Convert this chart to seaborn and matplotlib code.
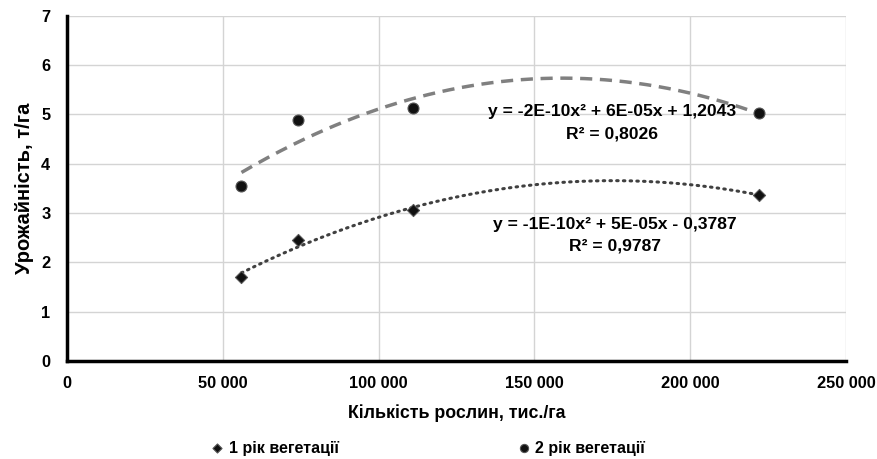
import numpy as np
import pandas as pd
import matplotlib
matplotlib.use("Agg")
import matplotlib.pyplot as plt
import seaborn as sns
from matplotlib.ticker import FuncFormatter, MultipleLocator

plants = [56000, 74000, 111000, 222000]
yield_1 = [1.70, 2.45, 3.05, 3.37]
yield_2 = [3.55, 4.88, 5.12, 5.03]
series_names = ["1 рік вегетації", "2 рік вегетації"]
eq_1 = "y = -1E-10x² + 5E-05x - 0,3787\nR² = 0,9787"
eq_2 = "y = -2E-10x² + 6E-05x + 1,2043\nR² = 0,8026"
x_label = "Кількість рослин, тис./га"
y_label = "Урожайність, т/га"

sns.set_theme(style="white")
plt.rcParams['font.family'] = ['Liberation Sans', 'DejaVu Sans']
plt.rcParams['font.weight'] = 'bold'
plt.rcParams['text.color'] = 'black'
plt.rcParams['axes.labelcolor'] = 'black'
plt.rcParams['xtick.color'] = 'black'
plt.rcParams['ytick.color'] = 'black'

fig = plt.figure(figsize=(8.77, 4.59), dpi=100)
ax = fig.add_axes([67/877, 1 - 361/459, (846-67)/877, (361-15.5)/459])

# trendlines (quadratic fit of the data)
xs = np.linspace(min(plants), max(plants), 200)
c1 = np.polyfit(plants, yield_1, 2)
c2 = np.polyfit(plants, yield_2, 2)
sns.lineplot(x=xs, y=np.polyval(c1, xs), ax=ax, color="#404040", lw=2.2,
             linestyle=(0, (0.5, 1.7)), dash_capstyle="round", legend=False)
sns.lineplot(x=xs, y=np.polyval(c2, xs), ax=ax, color="#808080", lw=2.5,
             linestyle=(0, (3.5, 2.2)), legend=False)

sns.scatterplot(x=plants, y=yield_1, marker="D", color="#111111", s=38,
                edgecolor="#555555", linewidth=0.8, ax=ax, zorder=5,
                label=series_names[0])
sns.scatterplot(x=plants, y=yield_2, marker="o", color="#111111", s=62,
                edgecolor="#555555", linewidth=0.8, ax=ax, zorder=5,
                label=series_names[1])

ax.set_xlim(0, 250000)
ax.set_ylim(0, 7)
ax.xaxis.set_major_locator(MultipleLocator(50000))
ax.yaxis.set_major_locator(MultipleLocator(1))
ax.xaxis.set_major_formatter(FuncFormatter(lambda v, p: f"{int(v):,}".replace(",", " ")))
ax.grid(True, color="#d4d4d4", lw=1)
for s in ["top", "right"]:
    ax.spines[s].set_visible(False)
for s in ["left", "bottom"]:
    ax.spines[s].set_color("black")
    ax.spines[s].set_linewidth(2.5)
ax.tick_params(axis="both", labelsize=11.8, length=0)
ax.tick_params(axis="x", pad=11)
ax.tick_params(axis="y", pad=12)
for lab in ax.get_xticklabels() + ax.get_yticklabels():
    lab.set_fontweight("bold")

ax.set_xlabel(x_label, fontsize=12.8, fontweight="bold", labelpad=9)
ax.set_ylabel(y_label, fontsize=14.5, fontweight="bold", labelpad=5)

ax.text(174900, 4.82, eq_2, ha="center", va="center", fontsize=12.6,
        fontweight="bold", linespacing=1.6)
ax.text(175900, 2.55, eq_1, ha="center", va="center", fontsize=12.6,
        fontweight="bold", linespacing=1.6)

handles, labels = ax.get_legend_handles_labels()
if ax.legend_:
    ax.legend_.remove()
leg = fig.legend(handles, labels, loc="center", bbox_to_anchor=(428/877, 1 - 448/459),
                 ncol=2, frameon=False, fontsize=11.5, columnspacing=11.2,
                 handlelength=0.8, handletextpad=0.3, markerscale=0.75)
for t in leg.get_texts():
    t.set_fontweight("bold")

fig.savefig("out.png", dpi=100)
